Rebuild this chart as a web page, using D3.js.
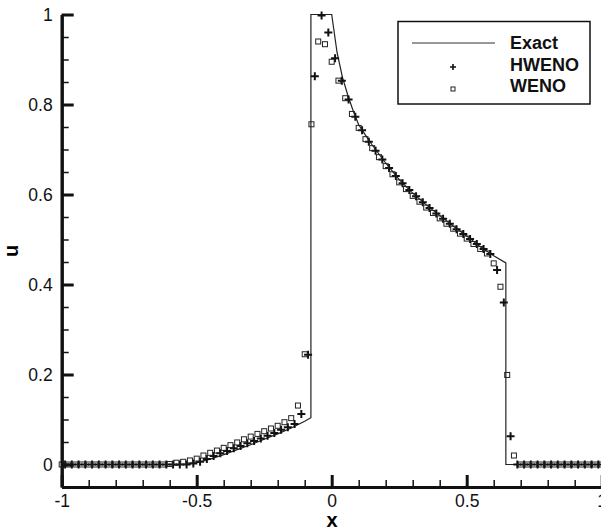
<!DOCTYPE html>
<html>
<head>
    <title>HWENO vs WENO</title>
    <script type="text/javascript" src="https://cdn.jsdelivr.net/npm/d3@7"></script>
    <meta charset="utf-8" />
    <style>
        body { margin: 0; background: #fff; }
        svg { display: block; }
        text { font-family: "Liberation Sans", Arial, sans-serif; }
    </style>
</head>
<body>
    <svg width="601" height="531"></svg>
    <script>

        // exact solution (polyline)
        var exactX = [-1, -0.55, -0.5, -0.45, -0.4, -0.35, -0.3, -0.25, -0.2, -0.15, -0.1, -0.077,
                      -0.077, 0, 0.02, 0.04, 0.06, 0.08, 0.1, 0.125, 0.15, 0.175, 0.2, 0.25, 0.3,
                      0.35, 0.4, 0.45, 0.5, 0.55, 0.6, 0.645, 0.645, 1];
        var exactU = [0, 0, 0.004, 0.012, 0.022, 0.033, 0.044, 0.056, 0.068, 0.081, 0.096, 0.104,
                      1, 1, 0.915, 0.86, 0.82, 0.785, 0.755, 0.732, 0.71, 0.69, 0.67, 0.633, 0.603,
                      0.577, 0.553, 0.53, 0.508, 0.484, 0.464, 0.448, 0, 0];

        // HWENO, cell centres
        var hwenoX = [-0.9875, -0.9625, -0.9375, -0.9125, -0.8875, -0.8625, -0.8375, -0.8125, -0.7875, -0.7625,
                      -0.7375, -0.7125, -0.6875, -0.6625, -0.6375, -0.6125, -0.5875, -0.5625, -0.5375, -0.5125,
                      -0.4875, -0.4625, -0.4375, -0.4125, -0.3875, -0.3625, -0.3375, -0.3125, -0.2875, -0.2625,
                      -0.2375, -0.2125, -0.1875, -0.1625, -0.1375, -0.1125, -0.0875, -0.0625, -0.0375, -0.0125,
                      0.0125, 0.0375, 0.0625, 0.0875, 0.1125, 0.1375, 0.1625, 0.1875, 0.2125, 0.2375,
                      0.2625, 0.2875, 0.3125, 0.3375, 0.3625, 0.3875, 0.4125, 0.4375, 0.4625, 0.4875,
                      0.5125, 0.5375, 0.5625, 0.5875, 0.6125, 0.6375, 0.6625, 0.6875, 0.7125, 0.7375,
                      0.7625, 0.7875, 0.8125, 0.8375, 0.8625, 0.8875, 0.9125, 0.9375, 0.9625, 0.9875];
        var hwenoU = [0, 0, 0, 0, 0, 0, 0, 0, 0, 0,
                      0, 0, 0, 0, 0, 0, 0, 0, 0, 0.002,
                      0.006, 0.012, 0.019, 0.025, 0.030, 0.036, 0.041, 0.047, 0.052, 0.058,
                      0.064, 0.070, 0.077, 0.083, 0.090, 0.112, 0.244, 0.863, 0.998, 0.960,
                      0.903, 0.853, 0.811, 0.773, 0.743, 0.717, 0.697, 0.678, 0.659, 0.641,
                      0.625, 0.610, 0.596, 0.583, 0.570, 0.558, 0.546, 0.535, 0.523, 0.512,
                      0.501, 0.490, 0.479, 0.468, 0.432, 0.360, 0.063, 0, 0, 0,
                      0, 0, 0, 0, 0, 0, 0, 0, 0, 0];

        // WENO, grid nodes
        var wenoX = [-1, -0.975, -0.95, -0.925, -0.9, -0.875, -0.85, -0.825, -0.8, -0.775,
                     -0.75, -0.725, -0.7, -0.675, -0.65, -0.625, -0.6, -0.575, -0.55, -0.525,
                     -0.5, -0.475, -0.45, -0.425, -0.4, -0.375, -0.35, -0.325, -0.3, -0.275,
                     -0.25, -0.225, -0.2, -0.175, -0.15, -0.125, -0.1, -0.075, -0.05, -0.025,
                     0, 0.025, 0.05, 0.075, 0.1, 0.125, 0.15, 0.175, 0.2, 0.225,
                     0.25, 0.275, 0.3, 0.325, 0.35, 0.375, 0.4, 0.425, 0.45, 0.475,
                     0.5, 0.525, 0.55, 0.575, 0.6, 0.625, 0.65, 0.675, 0.7, 0.725,
                     0.75, 0.775, 0.8, 0.825, 0.85, 0.875, 0.9, 0.925, 0.95, 0.975, 1];
        var wenoU = [0, 0, 0, 0, 0, 0, 0, 0, 0, 0,
                     0, 0, 0, 0, 0, 0, 0.001, 0.004, 0.006, 0.009,
                     0.013, 0.020, 0.026, 0.031, 0.037, 0.043, 0.049, 0.056, 0.062, 0.068,
                     0.074, 0.080, 0.086, 0.094, 0.103, 0.131, 0.245, 0.756, 0.940, 0.934,
                     0.895, 0.853, 0.814, 0.779, 0.748, 0.723, 0.703, 0.683, 0.663, 0.645,
                     0.627, 0.612, 0.597, 0.584, 0.571, 0.559, 0.547, 0.535, 0.524, 0.513,
                     0.502, 0.490, 0.479, 0.469, 0.447, 0.395, 0.199, 0.020, 0, 0,
                     0, 0, 0, 0, 0, 0, 0, 0, 0, 0, 0];

        var xTicks = [-1, -0.5, 0, 0.5, 1];
        var xTickLabels = ["-1", "-0.5", "0", "0.5", "1"];
        var uTicks = [0, 0.2, 0.4, 0.6, 0.8, 1];
        var uTickLabels = ["0", "0.2", "0.4", "0.6", "0.8", "1"];
        var legendNames = ["Exact", "HWENO", "WENO"];

        var svg = d3.select("svg");

        var x = d3.scaleLinear().domain([-1, 1]).range([61.7, 601.7]);
        var y = d3.scaleLinear().domain([-0.05, 1]).range([487, 14.5]);

        // exact line
        var line = d3.line()
            .x(function (d) { return x(d[0]); })
            .y(function (d) { return y(d[1]); });

        svg.append("path")
            .datum(d3.zip(exactX, exactU))
            .attr("d", line)
            .attr("fill", "none")
            .attr("stroke", "#222")
            .attr("stroke-width", 1.2);

        // HWENO plus markers
        svg.append("g")
            .selectAll("path")
            .data(d3.zip(hwenoX, hwenoU))
            .enter()
            .append("path")
            .attr("d", function (d) {
                var cx = x(d[0]), cy = y(d[1]);
                return "M" + (cx - 4) + "," + cy + "H" + (cx + 4) + "M" + cx + "," + (cy - 4) + "V" + (cy + 4);
            })
            .attr("stroke", "#111")
            .attr("stroke-width", 2);

        // WENO square markers
        svg.append("g")
            .selectAll("rect")
            .data(d3.zip(wenoX, wenoU))
            .enter()
            .append("rect")
            .attr("x", function (d) { return x(d[0]) - 2.5; })
            .attr("y", function (d) { return y(d[1]) - 2.5; })
            .attr("width", 5)
            .attr("height", 5)
            .attr("fill", "none")
            .attr("stroke", "#222")
            .attr("stroke-width", 1);

        // axes
        var xMinor = d3.axisBottom(x).tickValues(d3.range(-1, 1.001, 0.1)).tickSize(-7).tickSizeOuter(0).tickFormat("");
        var xMajor = d3.axisBottom(x).tickValues(xTicks).tickSize(-12).tickSizeOuter(0).tickPadding(8)
            .tickFormat(function (d, i) { return xTickLabels[i]; });
        var yMinor = d3.axisLeft(y).tickValues(d3.range(0, 1.001, 0.05)).tickSize(-7).tickSizeOuter(0).tickFormat("");
        var yMajor = d3.axisLeft(y).tickValues(uTicks).tickSize(-12).tickSizeOuter(0).tickPadding(9)
            .tickFormat(function (d, i) { return uTickLabels[i]; });

        var gx = svg.append("g").attr("transform", "translate(0,487)");
        gx.append("g").call(xMinor).selectAll("line").attr("stroke-width", 1.5);
        gx.append("g").call(xMajor).selectAll("line").attr("stroke-width", 3);

        var gy = svg.append("g").attr("transform", "translate(61.7,0)");
        gy.append("g").call(yMinor).selectAll("line").attr("stroke-width", 1.5);
        gy.append("g").call(yMajor).selectAll("line").attr("stroke-width", 3);

        svg.selectAll(".domain").attr("stroke-width", 3).attr("stroke", "#111");
        svg.selectAll(".tick line").attr("stroke", "#111");
        svg.selectAll(".tick text")
            .attr("font-family", "Liberation Sans, Arial, sans-serif")
            .attr("font-size", 17.5)
            .attr("fill", "#111");

        // axis titles
        svg.append("text")
            .attr("x", 332)
            .attr("y", 527)
            .attr("text-anchor", "middle")
            .attr("font-weight", "bold")
            .attr("font-size", 20)
            .text("x");

        svg.append("text")
            .attr("transform", "translate(18,251) rotate(-90)")
            .attr("text-anchor", "middle")
            .attr("font-weight", "bold")
            .attr("font-size", 20)
            .text("u");

        // legend
        var legend = svg.append("g");
        legend.append("rect")
            .attr("x", 398).attr("y", 21.5)
            .attr("width", 192).attr("height", 82.5)
            .attr("fill", "#fff")
            .attr("stroke", "#111")
            .attr("stroke-width", 1.5);

        legend.append("line")
            .attr("x1", 412).attr("x2", 495)
            .attr("y1", 43).attr("y2", 43)
            .attr("stroke", "#333")
            .attr("stroke-width", 1.2);

        legend.append("path")
            .attr("d", "M450,67H456M453,64V70")
            .attr("stroke", "#111")
            .attr("stroke-width", 1.6);

        legend.append("rect")
            .attr("x", 451).attr("y", 87)
            .attr("width", 4).attr("height", 4)
            .attr("fill", "none")
            .attr("stroke", "#222")
            .attr("stroke-width", 1);

        legend.selectAll("text.name")
            .data(legendNames)
            .enter()
            .append("text")
            .attr("class", "name")
            .attr("x", 510)
            .attr("y", function (d, i) { return 49.3 + i * 21.5; })
            .attr("font-weight", "bold")
            .attr("font-size", 18)
            .attr("fill", "#111")
            .text(function (d) { return d; });

    </script>
</body>
</html>
